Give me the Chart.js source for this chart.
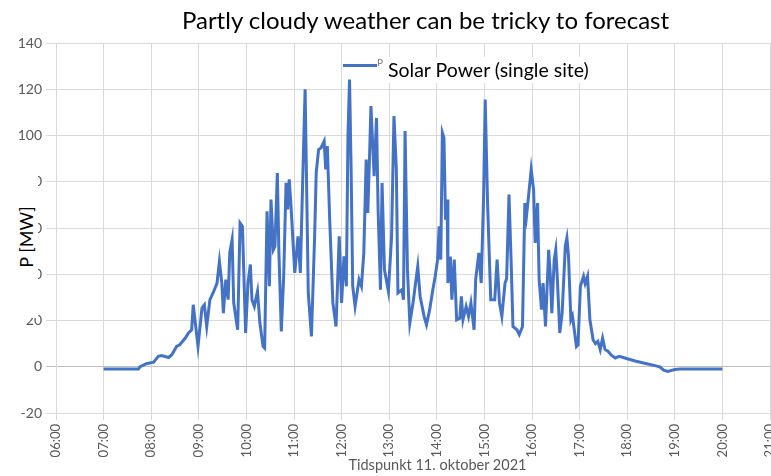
<!DOCTYPE html>
<html>
<head>
<meta charset="utf-8">
<script src="https://cdn.jsdelivr.net/npm/chart.js@4/dist/chart.umd.min.js"></script>
<style>
  body { margin: 0; background: #fff; font-family: Lato, "Open Sans", sans-serif; }
  #wrap { position: relative; width: 771px; height: 476px; overflow: hidden; }
  #title { position: absolute; left: 0; top: 5px; width: 771px; box-sizing: border-box; padding-left: 80px;
    text-align: center; font-size: 24px; line-height: 30px; color: #000; }
  #xtitle { position: absolute; left: 0; top: 456px; width: 771px; box-sizing: border-box; padding-left: 104px;
    text-align: center; font-size: 14.5px; line-height: 18px; color: #595959; }
  #ybox { position: absolute; left: 12px; top: 173px; width: 26px; height: 145px; background: #fff; }
  #ytitle { position: absolute; left: 26px; top: 237px; transform: translate(-50%, -50%) rotate(-90deg);
    white-space: nowrap; font-size: 18px; color: #000; }
  #legend { position: absolute; left: 385px; top: 57px; width: 215px; height: 26px; background: #fff;
    font-size: 19.5px; line-height: 26px; color: #000; padding-left: 3px; box-sizing: border-box; }
  #lsample { position: absolute; left: 343px; top: 64px; width: 34px; height: 0; border-top: 3px solid #4472C4; }
  #lp { position: absolute; left: 377px; top: 56px; font-size: 10px; color: #777; }
</style>
</head>
<body>
<div id="wrap">
  <canvas id="chart"></canvas>
  <div id="title">Partly cloudy weather can be tricky to forecast</div>
  <div id="ybox"></div>
  <div id="ytitle">P [MW]</div>
  <div id="lsample"></div>
  <div id="lp">P</div>
  <div id="legend">Solar Power (single site)</div>
  <div id="xtitle">Tidspunkt 11. oktober 2021</div>
</div>
<script>
// minutes after midnight, 11 Oct 2021
const minutes = [
  420, 464, 466, 474, 483, 489, 493, 502, 506, 512, 516, 523, 527, 531, 533, 539, 544, 547, 550, 554,
  558, 563, 566, 569, 571, 574, 577, 579, 582, 584, 589, 592, 595, 599, 602, 605, 607, 610, 614, 617,
  621, 623, 626, 629, 631, 634, 636, 639, 641, 644, 647, 650, 652, 654, 656, 661, 665, 668, 671, 674,
  678, 682, 686, 688, 691, 694, 698, 700, 702, 705, 709, 713, 717, 720, 723, 726, 728, 730, 732, 734,
  737, 742, 745, 748, 751, 753, 755, 757, 761, 764, 766, 769, 771, 774, 779, 783, 786, 789, 791, 796,
  798, 800, 803, 806, 810, 816, 819, 824, 827, 831, 835, 838, 841, 843, 845, 847, 849, 851, 853, 854,
  857, 859, 862, 865, 869, 871, 873, 877, 880, 883, 887, 889, 893, 896, 899, 901, 904, 908, 913, 916,
  919, 922, 926, 928, 931, 934, 936, 941, 944, 948, 951, 953, 956, 959, 962, 964, 967, 969, 972, 974,
  977, 981, 983, 985, 988, 990, 992, 995, 998, 1002, 1004, 1006, 1009, 1011, 1016, 1018, 1021, 1025, 1027, 1030,
  1033, 1037, 1040, 1043, 1046, 1049, 1052, 1056, 1060, 1065, 1070, 1077, 1090, 1102, 1115, 1121, 1126, 1131, 1140, 1147,
  1200
];
const powerMW = [
  -1, -1, 0, 1.3, 2, 4.5, 4.8, 4, 5.2, 8.8, 9.5, 12.4, 14.6, 16, 26.8, 8.8, 25.4, 26.8, 17.4, 29,
  31.9, 36.2, 45.6, 36.2, 23.2, 37.7, 29, 49.2, 55, 27.6, 16, 62.2, 60.7, 14.6, 36.2, 44.2, 29, 26.1, 32.6, 18.9,
  8.8, 8.1, 67.2, 34.8, 72.3, 50.6, 52, 83.8, 49.2, 15.3, 39.1, 79.5, 68, 81, 70.8, 40.6, 56.4, 40.6, 81, 120,
  31.9, 13.1, 56.4, 83.8, 93.9, 94.6, 97.5, 85.3, 95.4, 63.6, 27.6, 17.4, 56.4, 27.6, 47.7, 34.8, 99.7, 124.2, 85.3, 34.8,
  26.1, 37.7, 34.8, 49.2, 89.6, 66.5, 88.2, 112.7, 82.4, 107.6, 68, 33.3, 79.5, 42, 32.6, 56.4, 108.4, 85.3, 31.9, 33.3,
  29, 101.9, 42, 18.9, 27.6, 43.4, 30.4, 21.8, 18.2, 24.7, 33.3, 39.1, 46.3, 60.7, 46.3, 101.2, 99, 63.6, 72.3, 36.2,
  47.7, 29, 46.3, 20.3, 21, 30.4, 20.3, 26.1, 21.8, 27.6, 16, 37.7, 49.2, 36.2, 73.7, 115.6, 70.8, 29, 29, 46.3,
  27.6, 21.8, 36.2, 38, 74.5, 42, 17.4, 16, 13.9, 17.4, 70.8, 65, 75.1, 85.3, 76.6, 53.5, 70.8, 37.7, 24.7, 36.2,
  17.4, 50.6, 40, 23.2, 46.3, 50.6, 37.7, 14.6, 23.2, 52.1, 55.7, 48, 20.3, 22, 8.8, 9.5, 34.8, 39.1, 36, 39.1,
  20.3, 11.7, 10, 11, 7.4, 12.4, 7.5, 6.6, 5, 3.8, 4.5, 3.8, 2.5, 1.5, 0.5, 0, -1.5, -2, -1.2, -1,
  -1
];
const hourLabels = ["06:00", "07:00", "08:00", "09:00", "10:00", "11:00", "12:00", "13:00",
  "14:00", "15:00", "16:00", "17:00", "18:00", "19:00", "20:00", "21:00"];
const yTicks = [-20, 0, 20, 40, 60, 80, 100, 120, 140];

const GRID = "#d9d9d9";
const TICK = "#595959";

new Chart(document.getElementById("chart"), {
  type: "line",
  data: {
    datasets: [{
      label: "Solar Power (single site)",
      data: minutes.map((m, i) => ({ x: m, y: powerMW[i] })),
      borderColor: "#4472C4",
      borderWidth: 3,
      pointRadius: 0,
      tension: 0,
      fill: false,
    }],
  },
  options: {
    responsive: true,
    maintainAspectRatio: false,
    animation: false,
    layout: { padding: { top: 43, right: 1, bottom: 0, left: 0 } },
    plugins: { legend: { display: false }, title: { display: false }, tooltip: { enabled: false } },
    scales: {
      x: {
        type: "linear",
        min: 360,
        max: 1260,
        afterBuildTicks: (s) => { s.ticks = hourLabels.map((_, i) => ({ value: 360 + i * 60 })); },
        afterFit: (s) => { s.height = 63; s.paddingLeft = 0; s.paddingRight = 0; },
        ticks: {
          minRotation: 90,
          maxRotation: 90,
          padding: 4,
          color: TICK,
          font: { family: "Lato", size: 13 },
          callback: (v) => hourLabels[Math.round((v - 360) / 60)],
        },
        grid: { color: GRID, tickLength: 7 },
        border: { color: GRID },
      },
      y: {
        min: -20,
        max: 140,
        afterBuildTicks: (s) => { s.ticks = yTicks.map((v) => ({ value: v })); },
        afterFit: (s) => { s.width = 56; },
        ticks: { padding: 4, color: TICK, font: { family: "Lato", size: 14 } },
        grid: { color: (c) => (c.tick && c.tick.value === 0 ? "#bfbfbf" : GRID), tickLength: 10 },
        border: { color: GRID },
      },
    },
  },
});
</script>
</body>
</html>
